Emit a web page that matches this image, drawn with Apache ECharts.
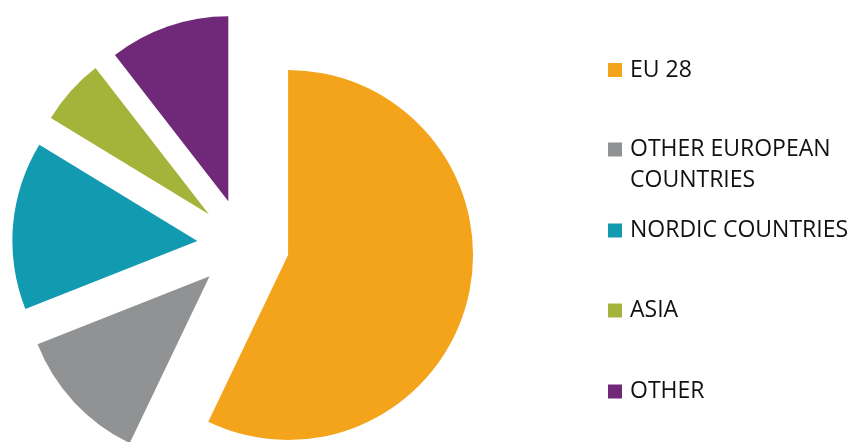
<!DOCTYPE html>
<html>
<head>
<meta charset="utf-8">
<script src="https://cdn.jsdelivr.net/npm/echarts@6/dist/echarts.min.js"></script>
<style>
  html, body { margin: 0; padding: 0; background: #ffffff; }
  #chart { width: 851px; height: 442px; }
</style>
</head>
<body>
<div id="chart"></div>
<script>
// Share of total by region (percent)
const categories = ['EU 28', 'OTHER EUROPEAN COUNTRIES', 'NORDIC COUNTRIES', 'ASIA', 'OTHER'];
const shares = [57.1, 11.9, 14.7, 5.8, 10.5];

// Slice colours, in category order
const palette = ['#F4A41B', '#919294', '#129AB0', '#A4B43A', '#702878'];

// Vertical centre of each legend row
const legendRowY = [67.5, 147, 228, 308, 389];

const FONT = '"Open Sans", "Noto Sans", sans-serif';
const FONT_SIZE = 23;
const TEXT_COLOR = '#111111';

const chart = echarts.init(document.getElementById('chart'), null, { renderer: 'canvas' });

// One legend per row so rows can sit at their own heights
const legends = categories.map((name, i) => ({
  left: 608,
  top: legendRowY[i] - 9,
  orient: 'vertical',
  padding: 0,
  itemWidth: 14,
  itemHeight: 14,
  icon: 'rect',
  selectedMode: false,
  data: [name],
  formatter: n => (n === 'OTHER EUROPEAN COUNTRIES' ? 'OTHER EUROPEAN' : n),
  textStyle: {
    fontFamily: FONT,
    fontSize: FONT_SIZE,
    lineHeight: 14,
    color: TEXT_COLOR,
    padding: [0, 0, 4, 3]
  }
}));

chart.setOption({
  animation: false,
  color: palette,
  legend: legends,
  graphic: [{
    type: 'text',
    x: 630,
    y: 180,
    style: {
      text: 'COUNTRIES',
      font: FONT_SIZE + 'px ' + FONT,
      fill: TEXT_COLOR,
      verticalAlign: 'middle'
    }
  }],
  series: [{
    type: 'pie',
    center: [243.2, 244.8],
    radius: 185,
    startAngle: 90,
    clockwise: true,
    selectedMode: 'multiple',
    selectedOffset: 46,
    avoidLabelOverlap: false,
    label: { show: false },
    labelLine: { show: false },
    emphasis: { disabled: true },
    itemStyle: { borderWidth: 0 },
    data: categories.map((name, i) => ({ name, value: shares[i], selected: true }))
  }]
});
</script>
</body>
</html>
